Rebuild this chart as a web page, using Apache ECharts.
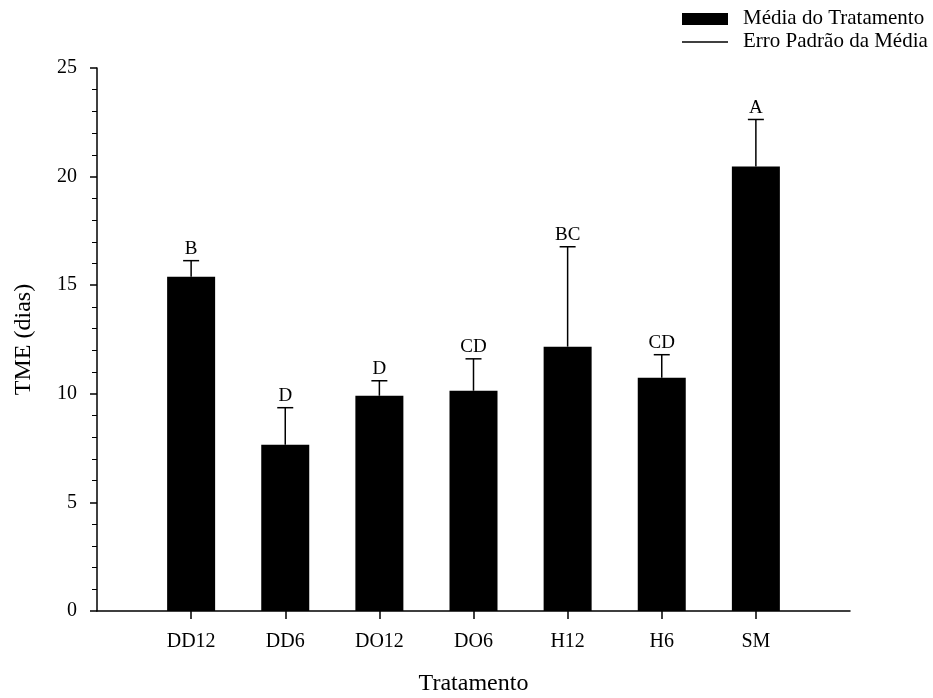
<!DOCTYPE html>
<html>
<head>
<meta charset="utf-8">
<script src="https://cdn.jsdelivr.net/npm/echarts@6/dist/echarts.min.js"></script>
<style>
  html, body { margin: 0; padding: 0; background: #fff; }
  #chart { width: 933px; height: 698px; }
</style>
</head>
<body>
<div id="chart"></div>
<script>
// Treatments, mean TME (days), standard error of the mean, and group letters
const treatments = ['DD12', 'DD6', 'DO12', 'DO6', 'H12', 'H6', 'SM'];
const meanValues = [15.39, 7.65, 9.91, 10.14, 12.17, 10.74, 20.46];
const stdErrors = [0.74, 1.71, 0.69, 1.47, 4.60, 1.06, 2.17];
const groupLetters = ['B', 'D', 'D', 'CD', 'BC', 'CD', 'A'];
const yTicks = [0, 5, 10, 15, 20, 25];

const FONT = '"Liberation Serif", "Times New Roman", serif';

// Empty slot on each side of the treatments so the axis runs past the bars
const categories = [''].concat(treatments, ['']);
const barData = [null].concat(meanValues, [null]);
const errData = treatments.map((t, i) => [i + 1, meanValues[i], stdErrors[i]]);

const chart = echarts.init(document.getElementById('chart'), null, { renderer: 'canvas' });

chart.setOption({
  animation: false,
  backgroundColor: '#fff',
  grid: { left: 97, right: 83, top: 68, bottom: 87, containLabel: false, outerBoundsMode: 'none' },
  xAxis: {
    type: 'category',
    data: categories,
    boundaryGap: false,
    name: 'Tratamento',
    nameLocation: 'middle',
    nameGap: 61,
    nameTextStyle: { fontFamily: FONT, fontSize: 24, color: '#000' },
    axisLine: { lineStyle: { color: '#000', width: 1.5 } },
    axisTick: {
      show: true,
      length: 8,
      lineStyle: { color: '#000', width: 1.5 },
      interval: (idx) => idx > 0 && idx < categories.length - 1
    },
    axisLabel: {
      interval: 0,
      margin: 21,
      fontFamily: FONT,
      fontSize: 20,
      color: '#000'
    },
    splitLine: { show: false }
  },
  yAxis: {
    type: 'value',
    min: yTicks[0],
    max: yTicks[yTicks.length - 1],
    interval: yTicks[1] - yTicks[0],
    name: 'TME (dias)',
    nameLocation: 'middle',
    nameGap: 61,
    nameTextStyle: { fontFamily: FONT, fontSize: 24, color: '#000' },
    axisLine: { show: true, lineStyle: { color: '#000', width: 1.5 } },
    axisTick: { show: true, length: 7, lineStyle: { color: '#000', width: 1.5 } },
    minorTick: { show: true, splitNumber: 5, length: 5, lineStyle: { color: '#000', width: 1 } },
    axisLabel: { margin: 20, fontFamily: FONT, fontSize: 20, color: '#000' },
    splitLine: { show: false }
  },
  series: [
    {
      name: 'Média do Tratamento',
      type: 'bar',
      data: barData,
      barWidth: 48,
      itemStyle: { color: '#000' }
    },
    {
      name: 'Erro Padrão da Média',
      type: 'custom',
      data: errData,
      encode: { x: 0, y: 1 },
      renderItem: function (params, api) {
        const idx = api.value(0);
        const mean = api.value(1);
        const se = api.value(2);
        const letter = groupLetters[params.dataIndex];
        const base = api.coord([idx, mean]);
        const top = api.coord([idx, mean + se]);
        const half = 8;
        const style = { stroke: '#000', lineWidth: 1.5 };
        return {
          type: 'group',
          children: [
            { type: 'line', shape: { x1: base[0], y1: base[1], x2: top[0], y2: top[1] }, style: style },
            { type: 'line', shape: { x1: top[0] - half, y1: top[1], x2: top[0] + half, y2: top[1] }, style: style },
            {
              type: 'text',
              style: {
                x: top[0], y: top[1] - 2,
                text: letter,
                fill: '#000',
                font: '19px ' + FONT,
                align: 'center',
                verticalAlign: 'bottom'
              }
            }
          ]
        };
      },
      z: 3
    }
  ],
  graphic: [
    { type: 'rect', left: 682, top: 13, shape: { width: 46, height: 12 }, style: { fill: '#000' } },
    { type: 'text', left: 743, top: 8, style: { text: 'Média do Tratamento', font: '21px ' + FONT, fill: '#000' } },
    { type: 'line', shape: { x1: 682, y1: 42, x2: 728, y2: 42 }, style: { stroke: '#000', lineWidth: 1.5 } },
    { type: 'text', left: 743, top: 31, style: { text: 'Erro Padrão da Média', font: '21px ' + FONT, fill: '#000' } }
  ]
});
</script>
</body>
</html>
